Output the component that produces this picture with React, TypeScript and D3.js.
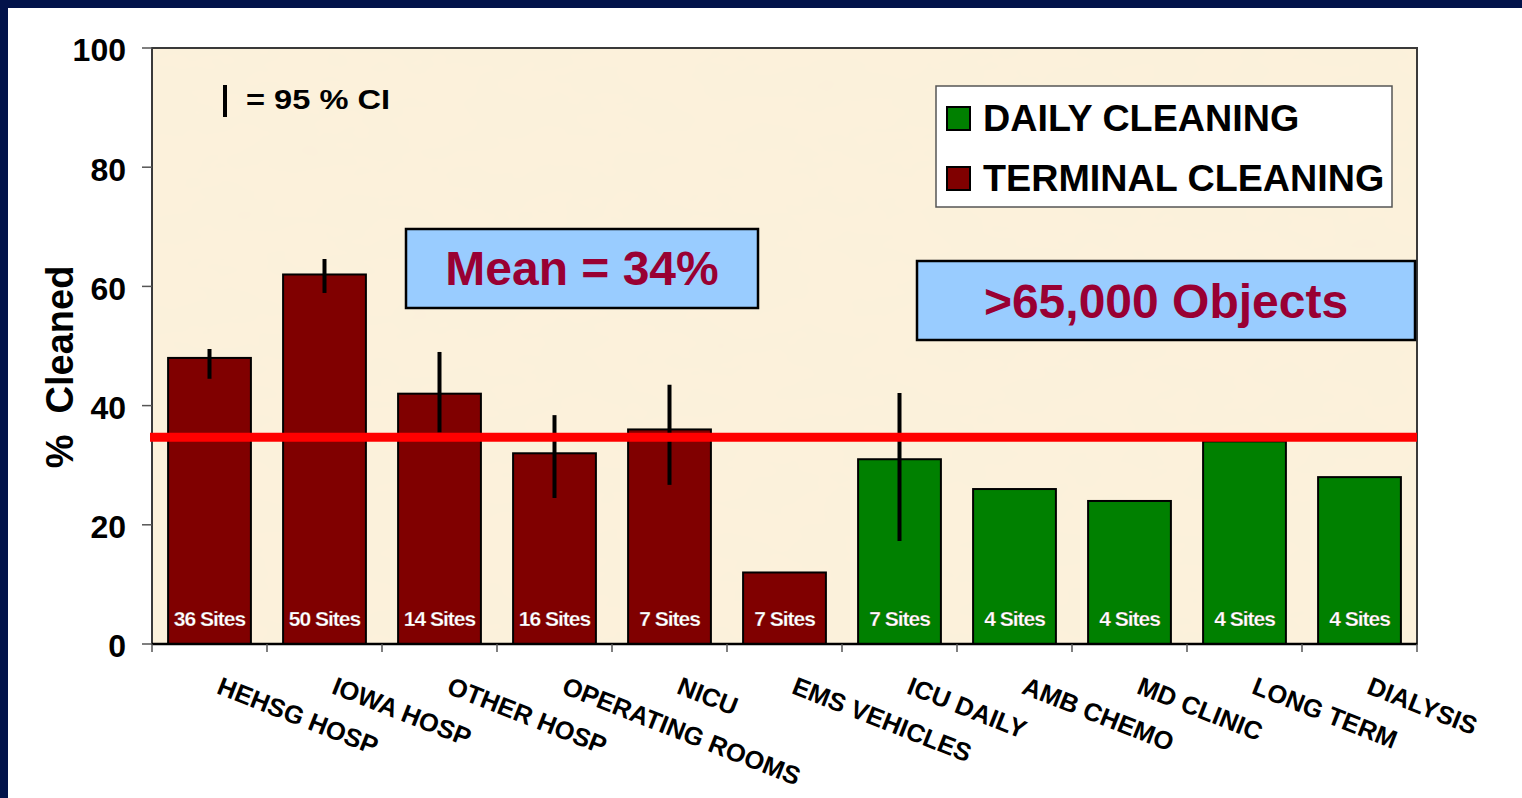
import * as d3 from 'd3';

// categories and values
const categories = [
  'HEHSG HOSP', 'IOWA HOSP', 'OTHER HOSP', 'OPERATING ROOMS', 'NICU',
  'EMS VEHICLES', 'ICU DAILY', 'AMB CHEMO', 'MD CLINIC', 'LONG TERM', 'DIALYSIS',
];
const cleaningType = [
  'TERMINAL', 'TERMINAL', 'TERMINAL', 'TERMINAL', 'TERMINAL', 'TERMINAL',
  'DAILY', 'DAILY', 'DAILY', 'DAILY', 'DAILY',
];
const pctCleaned = [48, 62, 42, 32, 36, 12, 31, 26, 24, 34, 28];
const ciLow = [44.5, 58.9, 35.5, 24.5, 26.7, null, 17.3, null, null, null, null];
const ciHigh = [49.5, 64.6, 49, 38.4, 43.5, null, 42.1, null, null, null, null];
const siteCounts = [36, 50, 14, 16, 7, 7, 7, 4, 4, 4, 4];
const meanValue = 34.7;
const yTicks = [0, 20, 40, 60, 80, 100];
const legendItems = ['DAILY CLEANING', 'TERMINAL CLEANING'];

const W = 1522;
const H = 798;
const plot = { left: 152, right: 1417, top: 48, bottom: 644 };
const FONT = '"Liberation Sans", Arial, Helvetica, sans-serif';
const colors = { TERMINAL: '#800000', DAILY: '#008000' };

export default function App() {
  const x = d3.scaleBand<string>().domain(categories).range([plot.left, plot.right]).padding(0);
  const y = d3.scaleLinear().domain([0, 100]).range([plot.bottom, plot.top]);
  const barW = x.bandwidth() * 0.72;
  const cx = (c: string) => (x(c) as number) + x.bandwidth() / 2;

  return (
    <svg width={W} height={H} style={{ position: 'absolute', left: 0, top: 0, display: 'block' }}
      fontFamily={FONT}>
      <defs>
        <filter id="paper" x="0" y="0" width="100%" height="100%">
          <feTurbulence type="fractalNoise" baseFrequency="0.015 0.03" numOctaves="3" seed="7" />
          <feColorMatrix type="matrix"
            values="0 0 0 0 0.93  0 0 0 0 0.86  0 0 0 0 0.70  0 0 0 0.35 -0.08" />
        </filter>
      </defs>
      <rect x={0} y={0} width={W} height={H} fill="#ffffff" />
      {/* dark frame */}
      <rect x={0} y={0} width={W} height={8} fill="#02134a" />
      <rect x={0} y={0} width={8} height={H} fill="#02134a" />

      {/* plot area */}
      <rect x={plot.left} y={plot.top} width={plot.right - plot.left} height={plot.bottom - plot.top}
        fill="#fcf1db" />
      <rect x={plot.left} y={plot.top} width={plot.right - plot.left} height={plot.bottom - plot.top}
        filter="url(#paper)" />
      <rect x={plot.left} y={plot.top} width={plot.right - plot.left} height={plot.bottom - plot.top}
        fill="none" stroke="#3a3a3a" strokeWidth={2} />

      {/* y axis */}
      {yTicks.map((t) => (
        <g key={t}>
          <line x1={plot.left - 10} x2={plot.left} y1={y(t)} y2={y(t)} stroke="#555" strokeWidth={1.5} />
          <text x={126} y={y(t)} dy="0.42em" textAnchor="end" fontSize={32} fontWeight="bold" fill="#000">
            {t}
          </text>
        </g>
      ))}
      <text transform={`translate(73,367) rotate(-90)`} textAnchor="middle"
        fontSize={38} fontWeight="bold" fill="#000" style={{ whiteSpace: 'pre' }}>
        {'%  Cleaned'}
      </text>

      {/* bars */}
      {categories.map((c, i) => (
        <rect key={c} x={cx(c) - barW / 2} y={y(pctCleaned[i])} width={barW}
          height={y(0) - y(pctCleaned[i])} fill={colors[cleaningType[i]]} stroke="#000" strokeWidth={2} />
      ))}

      {/* 95% CI */}
      {categories.map((c, i) =>
        ciLow[i] == null ? null : (
          <line key={c} x1={cx(c)} x2={cx(c)} y1={y(ciHigh[i] as number)} y2={y(ciLow[i] as number)}
            stroke="#000" strokeWidth={4} />
        ))}

      {/* mean line */}
      <line x1={plot.left - 2} x2={plot.right} y1={y(meanValue)} y2={y(meanValue)} stroke="#ff0000" strokeWidth={9} />

      {/* site counts */}
      {categories.map((c, i) => (
        <text key={c} x={cx(c)} y={y(0) - 18} textAnchor="middle" fontSize={21} fontWeight="bold"
          fill="#fff" letterSpacing={-1} stroke="#5a1010" strokeWidth={0.4} strokeOpacity={0.5}>
          {`${siteCounts[i]} Sites`}
        </text>
      ))}

      {/* x axis */}
      <line x1={plot.left} x2={plot.right} y1={plot.bottom} y2={plot.bottom} stroke="#000" strokeWidth={2.5} />
      {[...categories.map((c) => x(c) as number), plot.right].map((tx, i) => (
        <line key={i} x1={tx} x2={tx} y1={plot.bottom} y2={plot.bottom + 8} stroke="#555" strokeWidth={1.5} />
      ))}
      {categories.map((c) => (
        <text key={c} transform={`translate(${cx(c) + 6},${plot.bottom + 49}) rotate(21.5)`}
          fontSize={25.5} fontWeight="bold" fill="#000">
          {c}
        </text>
      ))}

      {/* CI key */}
      <line x1={225} x2={225} y1={85} y2={117} stroke="#000" strokeWidth={4} />
      <text x={246} y={109} fontSize={28} fontWeight="bold" fill="#000" textLength={144}
        lengthAdjust="spacingAndGlyphs">
        = 95 % CI
      </text>

      {/* mean box */}
      <rect x={406} y={229} width={352} height={79} fill="#99ccff" stroke="#000" strokeWidth={2.5} />
      <text x={582} y={285} textAnchor="middle" fontSize={48} fontWeight="bold" fill="#990033">
        Mean = 34%
      </text>

      {/* objects box */}
      <rect x={917} y={261} width={498} height={79} fill="#99ccff" stroke="#000" strokeWidth={2.5} />
      <text x={1166} y={318} textAnchor="middle" fontSize={48} fontWeight="bold" fill="#990033">
        {'>65,000 Objects'}
      </text>

      {/* legend */}
      <rect x={936} y={86} width={456} height={121} fill="#fff" stroke="#555" strokeWidth={1.5} />
      {legendItems.map((label, i) => (
        <g key={label}>
          <rect x={947} y={107 + i * 60} width={23} height={23}
            fill={i === 0 ? colors.DAILY : colors.TERMINAL} stroke="#000" strokeWidth={2} />
          <text x={983} y={131 + i * 60} fontSize={37.7} fontWeight="bold" fill="#000">
            {label}
          </text>
        </g>
      ))}
    </svg>
  );
}
